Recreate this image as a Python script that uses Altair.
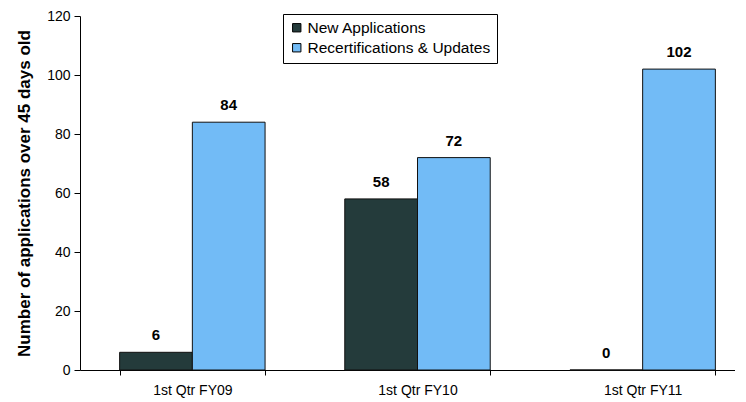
import altair as alt
import pandas as pd

quarters = ["1st Qtr FY09", "1st Qtr FY10", "1st Qtr FY11"]
series = ["New Applications", "Recertifications & Updates"]
new_apps = [6, 58, 0]
recerts = [84, 72, 102]
colors = ["#243b3b", "#72bbf6"]

rows = []
for q, n, r in zip(quarters, new_apps, recerts):
    rows.append({"quarter": q, "series": series[0], "value": n})
    rows.append({"quarter": q, "series": series[1], "value": r})
df = pd.DataFrame(rows)

font = "Liberation Sans"

x = alt.X("quarter:N", sort=quarters, title=None,
          scale=alt.Scale(paddingInner=0.354, paddingOuter=0.176, range=[0, 675]),
          axis=alt.Axis(labelAngle=0, labelFontSize=14, labelFont=font, labelColor="#000",
                        domainColor="#000", tickColor="#000", tickBand="extent",
                        tickSize=5, labelPadding=8, grid=False))
xo = alt.XOffset("series:N", sort=series)
y = alt.Y("value:Q", title="Number of applications over 45 days old",
          scale=alt.Scale(domain=[0, 120]),
          axis=alt.Axis(values=[0, 20, 40, 60, 80, 100, 120], grid=False,
                        labelFontSize=14, labelFont=font, labelColor="#000",
                        titleFont=font, titleFontSize=17, titleFontWeight="bold",
                        titleColor="#000", titlePadding=13,
                        domainColor="#000", tickColor="#000", tickSize=6, labelPadding=4))

bars = alt.Chart(df).mark_bar(stroke="#111", strokeWidth=1).encode(
    x=x, xOffset=xo, y=y,
    color=alt.Color("series:N", sort=series,
                    scale=alt.Scale(domain=series, range=colors),
                    legend=alt.Legend(title=None, orient="none", legendX=203, legendY=-2,
                                      labelFont=font, labelFontSize=15.5, labelColor="#000",
                                      symbolType="square", symbolSize=70,
                                      symbolStrokeColor="#000", symbolStrokeWidth=1,
                                      strokeColor="#000", padding=6, rowPadding=3,
                                      labelOffset=3,
                                      fillColor="#fff", labelLimit=300)),
)

labels = alt.Chart(df).mark_text(dy=-9, fontSize=15, fontWeight="bold", font=font,
                                 color="#000", baseline="bottom").encode(
    x=x, xOffset=xo, y=y, text="value:Q"
)

chart = (bars + labels).properties(
    width=655, height=354, autosize="none",
    padding={"left": 72, "top": 8, "right": 0, "bottom": 28}
).configure_view(stroke=None)

chart.save("out.html", embed_options={"renderer": "svg", "actions": False})
